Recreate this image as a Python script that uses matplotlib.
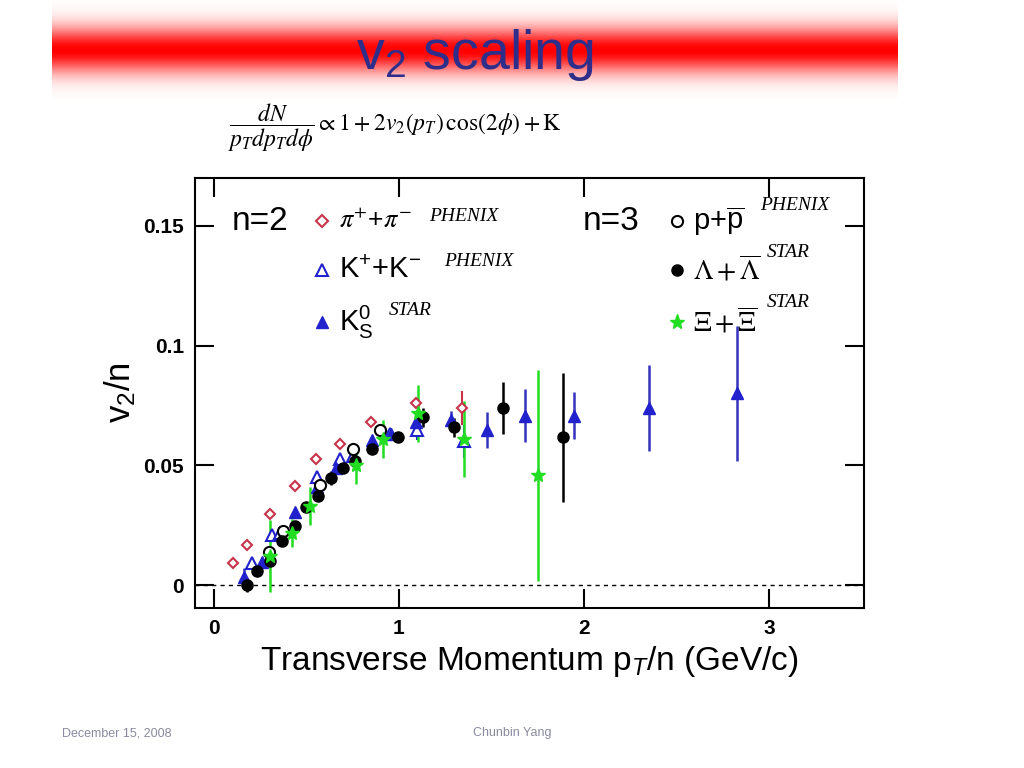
import matplotlib
matplotlib.use("Agg")
import matplotlib.pyplot as plt
import numpy as np
plt.rcParams['font.family'] = ['Liberation Sans', 'DejaVu Sans']
plt.rcParams['mathtext.fontset'] = 'custom'
plt.rcParams['mathtext.rm'] = 'Liberation Sans'
plt.rcParams['mathtext.it'] = 'Liberation Sans:italic'

pi_x = [0.106,0.183,0.307,0.437,0.555,0.685,0.852,1.094,1.342]
pi_y = [0.0093,0.0167,0.0296,0.0413,0.0525,0.059,0.068,0.076,0.074]
pi_e = [0,0,0,0,0,0,0,0,0.007]
k_x = [0.21,0.318,0.36,0.56,0.685,0.755,0.95,1.1,1.35]
k_y = [0.009,0.021,0.0217,0.045,0.0525,0.054,0.063,0.0646,0.06]
k_e = [0,0,0,0,0,0,0,0.004,0.007]
ks_x = [0.163,0.263,0.44,0.56,0.66,0.857,0.955,1.09,1.28,1.477,1.68,1.946,2.35,2.825]
ks_y = [0.0033,0.0096,0.0304,0.041,0.049,0.0604,0.063,0.068,0.0688,0.0646,0.0708,0.0708,0.0738,0.080]
ks_e = [0.004,0,0,0,0,0,0,0.003,0.004,0.0075,0.011,0.01,0.018,0.028]
p_x = [0.297,0.377,0.577,0.75,0.9]
p_y = [0.0138,0.0225,0.0417,0.057,0.0646]
l_x = [0.183,0.237,0.307,0.372,0.442,0.5,0.566,0.636,0.7,0.765,0.857,0.997,1.13,1.3,1.563,1.887]
l_y = [0.0,0.0058,0.01,0.0183,0.0246,0.0325,0.037,0.0446,0.049,0.052,0.057,0.0617,0.07,0.0658,0.074,0.0617]
l_e = [0.003,0,0,0,0,0,0,0.003,0,0,0,0,0.004,0.004,0.011,0.027]
xi_x = [0.307,0.425,0.52,0.77,0.917,1.105,1.353,1.752]
xi_y = [0.012,0.0217,0.033,0.05,0.061,0.0717,0.061,0.0458]
xi_e = [0.015,0.006,0.008,0.008,0.008,0.012,0.016,0.044]

fig = plt.figure(figsize=(10.24,7.68), dpi=100)
bn = fig.add_axes([52/1024, 1-100/768, (898-52)/1024, 100/768])
t = np.linspace(-1,1,200)
g = np.exp(-(t/0.45)**2)
img = np.ones((200,1,3)); img[:,0,1] = 1-g; img[:,0,2] = 1-g
bn.imshow(img, aspect='auto', extent=[0,1,0,1])
bn.axis('off')
fig.text(475/1024, 1-55/768, r'v$_2$ scaling', ha='center', va='center', fontsize=40, color='#2e2e8a')
fig.text(395/1024, 1-128/768, r'$\dfrac{dN}{p_T dp_T d\phi} \propto 1+2v_2(p_T)\,\cos(2\phi)+\mathrm{K}$',
         ha='center', va='center', fontsize=17, math_fontfamily='stix')

ax = fig.add_axes([195/1024, 1-608/768, (864-195)/1024, (608-178)/768])
ax.set_xlim(-0.1, 3.51); ax.set_ylim(-0.0096, 0.17)
ax.axhline(0, color='k', ls=(0,(3,3)), lw=1)
ax.errorbar(pi_x, pi_y, yerr=pi_e, fmt='D', ms=5, mfc='white', mec='#c8334a', ecolor='#c8334a', mew=1.5, elinewidth=1.5)
ax.errorbar(k_x, k_y, yerr=k_e, fmt='^', ms=8, mfc='white', mec='#2222cc', ecolor='#2222cc', mew=1.5, elinewidth=1.5)
ax.errorbar(ks_x, ks_y, yerr=ks_e, fmt='^', ms=8, color='#2222cc', ecolor='#3333bb', elinewidth=1.8)
ax.errorbar(p_x, p_y, fmt='o', ms=8, mfc='white', mec='k', mew=1.5)
ax.errorbar(l_x, l_y, yerr=l_e, fmt='o', ms=8, color='k', elinewidth=1.8)
ax.errorbar(xi_x, xi_y, yerr=xi_e, fmt='*', ms=10, color='#22dd22', elinewidth=1.8)
ax.set_xticks([0,1,2,3]); ax.set_yticks([0,0.05,0.1,0.15])
ax.set_yticklabels(['0','0.05','0.1','0.15'])
ax.tick_params(direction='in', length=14, width=1.5, top=True, right=True, labelsize=15, pad=8)
for lb in ax.get_xticklabels()+ax.get_yticklabels(): lb.set_fontweight('bold')
for s in ax.spines.values(): s.set_linewidth(1.5)
ax.set_xlabel(r'Transverse Momentum p$_T$/n (GeV/c)', fontsize=24)
ax.set_ylabel(r'v$_2$/n', fontsize=25)

def T(x, y, s, **kw): ax.text(x, y, s, transform=ax.transAxes, va='center', **kw)
def S(x, y, s): T(x, y, s, fontsize=14, style='italic', family='Liberation Serif')
T(0.055, 0.9, 'n=2', fontsize=24)
T(0.58, 0.9, 'n=3', fontsize=24)
ax.plot([0.19],[0.9],'D',transform=ax.transAxes, ms=6, mfc='white', mec='#c8334a', mew=1.5)
T(0.215, 0.9, r'$\pi^{+}$+$\pi^{-}$', fontsize=19, math_fontfamily='stix')
S(0.35, 0.91, 'PHENIX')
ax.plot([0.19],[0.785],'^',transform=ax.transAxes, ms=8, mfc='white', mec='#2222cc', mew=1.5)
T(0.215, 0.785, r'K$^{+}$+K$^{-}$', fontsize=21)
S(0.373, 0.805, 'PHENIX')
ax.plot([0.19],[0.665],'^',transform=ax.transAxes, ms=8, color='#2222cc')
T(0.215, 0.665, r'K$^{0}_{\rm S}$', fontsize=21)
S(0.29, 0.693, 'STAR')
ax.plot([0.72],[0.9],'o',transform=ax.transAxes, ms=8, mfc='white', mec='k', mew=1.5)
T(0.745, 0.9, r'p+$\overline{\rm p}$', fontsize=21)
S(0.845, 0.937, 'PHENIX')
ax.plot([0.72],[0.785],'o',transform=ax.transAxes, ms=8, color='k')
T(0.745, 0.785, r'$\Lambda+\overline{\Lambda}$', fontsize=20, math_fontfamily='stix')
S(0.855, 0.826, 'STAR')
ax.plot([0.72],[0.665],'*',transform=ax.transAxes, ms=11, color='#22dd22')
T(0.745, 0.665, r'$\Xi+\overline{\Xi}$', fontsize=20, math_fontfamily='stix')
S(0.855, 0.71, 'STAR')

fig.text(62/1024, 1-733/768, 'December 15, 2008', fontsize=9, color='#8a8aa0', va='center')
fig.text(512/1024, 1-733/768, 'Chunbin Yang', fontsize=9, color='#8a8aa0', va='center', ha='center')
fig.savefig('out.png', dpi=100)
